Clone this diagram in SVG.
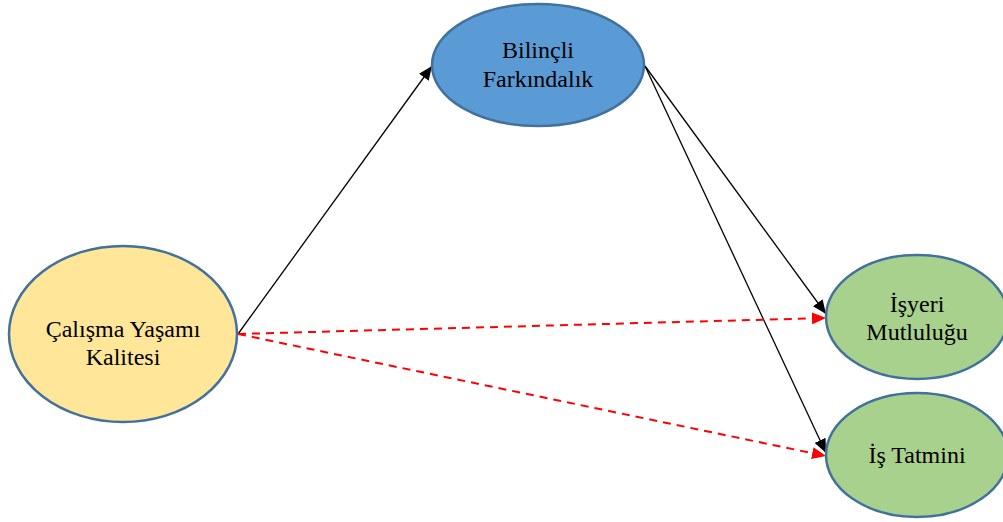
<svg xmlns="http://www.w3.org/2000/svg" width="1003" height="522" viewBox="0 0 1003 522">
<style>
.node{stroke:#41719c;stroke-width:2.5}
.t{font-family:"Liberation Serif","Times New Roman",serif;font-size:24px;fill:#000;text-anchor:middle}
.solid{stroke:#000;stroke-width:1.3;fill:none}
.dash{stroke:#ff0000;stroke-width:2;stroke-dasharray:8,6;fill:none}
</style>
<defs>
<marker id="ab" viewBox="0 0 14 12" refX="14" refY="6" markerWidth="14" markerHeight="12" markerUnits="userSpaceOnUse" orient="auto">
<path d="M0,0 L14,6 L0,12 Z" fill="#000"/>
</marker>
<marker id="ar" viewBox="0 0 14 12" refX="14" refY="6" markerWidth="14" markerHeight="12" markerUnits="userSpaceOnUse" orient="auto">
<path d="M0,0 L14,6 L0,12 Z" fill="#ff0000"/>
</marker>
</defs>
<g id="connectors">
<line class="solid" x1="238" y1="334" x2="432" y2="66" marker-end="url(#ab)"/>
<line class="solid" x1="645" y1="66" x2="826" y2="314" marker-end="url(#ab)"/>
<line class="solid" x1="645" y1="66" x2="826" y2="453" marker-end="url(#ab)"/>
<line class="dash" x1="238" y1="334" x2="826" y2="318" marker-end="url(#ar)"/>
<line class="dash" x1="238" y1="334" x2="826" y2="456" marker-end="url(#ar)"/>
</g>
<g id="bilincli">
<ellipse class="node" cx="538" cy="65" rx="106" ry="61" fill="#5b9bd5"/>
<text class="t" x="538" y="58">Bilinçli</text>
<text class="t" x="538" y="87">Farkındalık</text>
</g>
<g id="calisma">
<ellipse class="node" cx="123" cy="334" rx="114" ry="88" fill="#ffe699"/>
<text class="t" x="123" y="337">Çalışma Yaşamı</text>
<text class="t" x="123" y="365">Kalitesi</text>
</g>
<g id="isyeri">
<ellipse class="node" cx="917" cy="317" rx="91" ry="62" fill="#a9d18e"/>
<text class="t" x="917" y="312">İşyeri</text>
<text class="t" x="917" y="340">Mutluluğu</text>
</g>
<g id="istatmini">
<ellipse class="node" cx="917" cy="455" rx="91" ry="62" fill="#a9d18e"/>
<text class="t" x="917" y="463">İş Tatmini</text>
</g>
</svg>
